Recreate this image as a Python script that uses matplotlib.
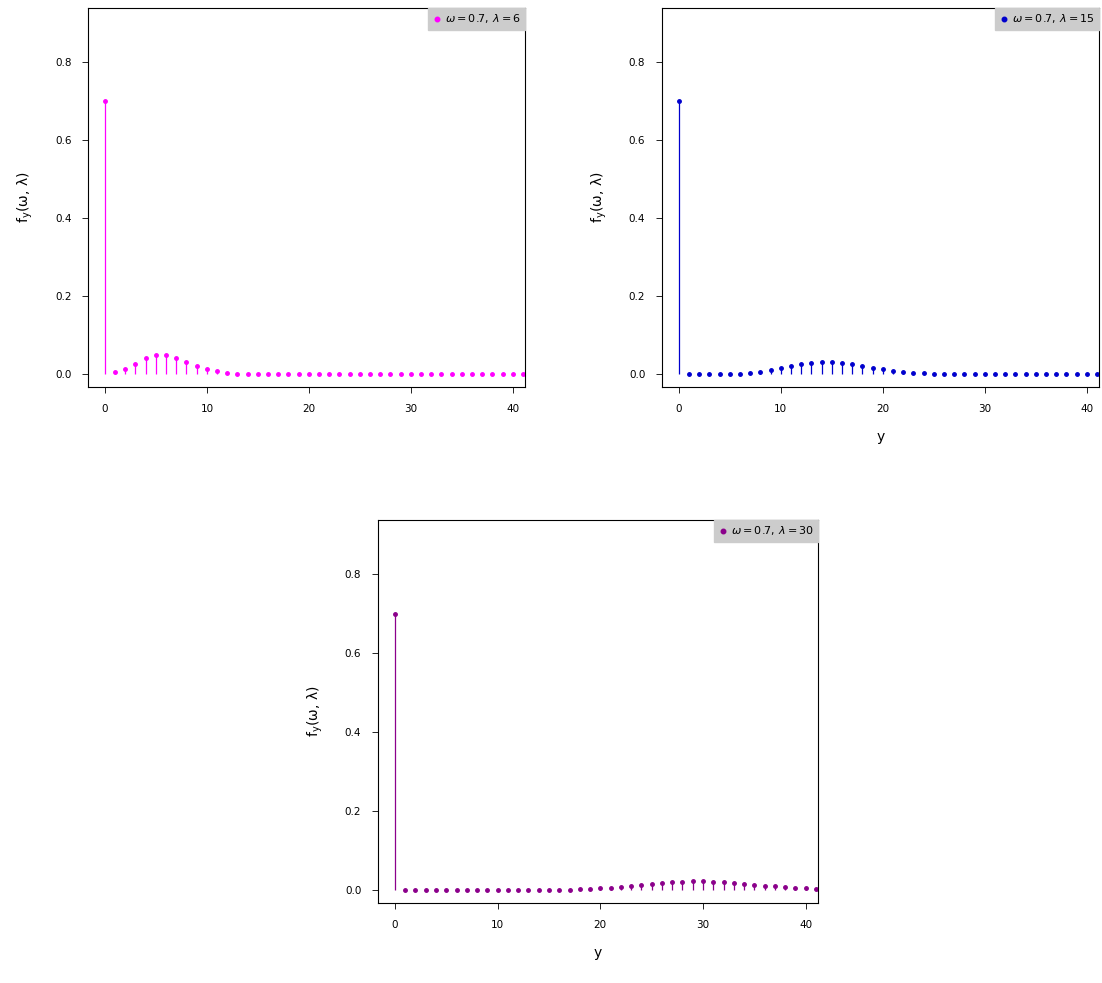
import matplotlib
matplotlib.use("Agg")
import matplotlib.pyplot as plt
import numpy as np

y = list(range(42))
f6 = [0.7007,0.0045,0.0134,0.0268,0.0402,0.0482,0.0482,0.0413,0.0310,0.0207,0.0124,0.0068,0.0034,0.0016,0.0007,0.0003] + [0.0]*26
f15 = [0.7,0,0,0,0.0001,0.0006,0.0014,0.0031,0.0058,0.0097,0.0146,0.0199,0.0249,0.0287,0.0307,0.0307,0.0288,0.0254,0.0212,0.0167,0.0125,0.0090,0.0061,0.0040,0.0025,0.0015,0.0009,0.0005,0.0002] + [0.0]*13
f30 = [0.7]+[0.0]*14+[0.0003,0.0006,0.0010,0.0017,0.0027,0.0040,0.0058,0.0078,0.0102,0.0128,0.0153,0.0177,0.0197,0.0211,0.0218,0.0218,0.0211,0.0198,0.0180,0.0159,0.0136,0.0113,0.0092,0.0073,0.0056,0.0042,0.0031]
labels = [r"$\omega = 0.7,\, \lambda = 6$", r"$\omega = 0.7,\, \lambda = 15$", r"$\omega = 0.7,\, \lambda = 30$"]
colors = ["#FF00FF", "#0000CD", "#8B008B"]

fig = plt.figure(figsize=(11.02, 9.83), dpi=100)
pos = [[0.0799,0.6063,0.3966,0.3856],[0.6007,0.6063,0.3966,0.3856],[0.343,0.0814,0.3993,0.3896]]
xl = [False, True, True]
for p, f, lab, c, showx in zip(pos, [f6, f15, f30], labels, colors, xl):
    ax = fig.add_axes(p)
    ax.vlines(y, 0, f, color=c, lw=0.9)
    ax.plot(y, f, 'o', color=c, ms=2.5, label=lab)
    ax.set_xlim(-1.65, 41.2)
    ax.set_ylim(-0.033, 0.938)
    ax.set_xticks([0,10,20,30,40])
    ax.set_yticks([0,0.2,0.4,0.6,0.8])
    ax.set_yticklabels(["0.0","0.2","0.4","0.6","0.8"])
    ax.tick_params(labelsize=7.5, length=4, width=0.6, pad=8)
    for s in ax.spines.values():
        s.set_linewidth(0.8)
    ax.set_ylabel(r"$\mathrm{f_y(\omega,\,\lambda)}$", fontsize=10, labelpad=14)
    if showx:
        ax.set_xlabel("y", fontsize=10, labelpad=12)
    leg = ax.legend(loc="upper right", fontsize=8, handletextpad=0.3, handlelength=0.8,
                    borderaxespad=0.0, frameon=True, fancybox=False, markerscale=1.3)
    leg.get_frame().set_facecolor("#cccccc")
    leg.get_frame().set_edgecolor("#cccccc")
    leg.get_frame().set_alpha(1)
fig.savefig("out.png", dpi=100)
